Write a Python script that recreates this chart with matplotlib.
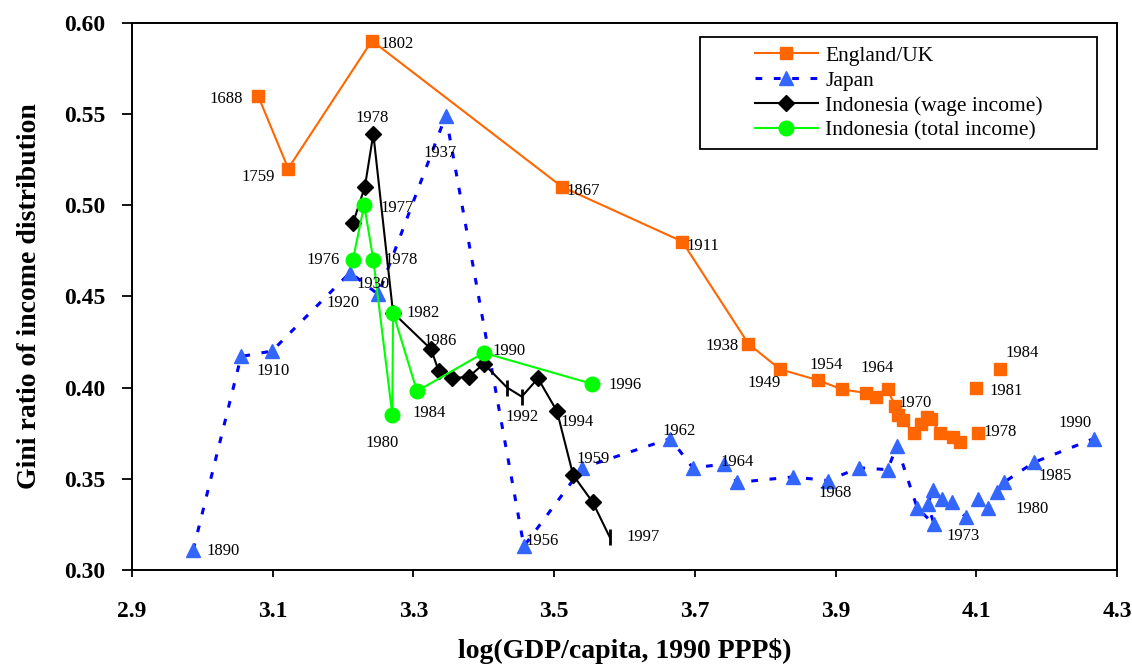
import numpy as np
import matplotlib
matplotlib.use('Agg')
import matplotlib.pyplot as plt
from matplotlib.patches import Rectangle
from matplotlib.lines import Line2D

plt.rcParams['font.family'] = ['Liberation Serif', 'DejaVu Serif']

# England/UK: the first uk_joined points are joined by the line, the rest stand alone
uk_year = [1688, 1759, 1802, 1867, 1911, 1938, 1949, 1954, 1957, 1959, 1961, 1964,
           1965, 1966, 1967, 1968, 1969, 1970, 1971, 1972, 1973, 1974, 1978, 1981, 1984]
uk_x = [3.079, 3.122, 3.241, 3.511, 3.682, 3.776, 3.821, 3.875, 3.909, 3.943, 3.957, 3.974,
        3.984, 3.988, 3.996, 4.011, 4.021, 4.030, 4.036, 4.048, 4.067, 4.077, 4.102, 4.100, 4.134]
uk_gini = [0.560, 0.520, 0.590, 0.510, 0.480, 0.424, 0.410, 0.404, 0.399, 0.397, 0.395, 0.399,
           0.390, 0.385, 0.382, 0.375, 0.380, 0.384, 0.383, 0.375, 0.373, 0.370, 0.375, 0.400, 0.410]
uk_joined = 22

jp_year = [1890, 1900, 1910, 1920, 1930, 1937, 1956, 1959, 1962, 1963, 1964, 1965, 1966, 1968,
           1969, 1970, 1971, 1972, 1973, 1974, 1975, 1976, 1977, 1978, 1979, 1980, 1981, 1982,
           1985, 1990]
jp_x = [2.987, 3.055, 3.099, 3.210, 3.250, 3.346, 3.457, 3.540, 3.665, 3.697, 3.742, 3.760,
        3.839, 3.889, 3.933, 3.974, 3.987, 4.016, 4.040, 4.031, 4.038, 4.051, 4.065, 4.085,
        4.102, 4.117, 4.129, 4.139, 4.182, 4.267]
jp_gini = [0.311, 0.417, 0.420, 0.463, 0.451, 0.549, 0.313, 0.356, 0.372, 0.356, 0.358, 0.348,
           0.351, 0.349, 0.356, 0.355, 0.368, 0.334, 0.325, 0.336, 0.344, 0.339, 0.337, 0.329,
           0.339, 0.334, 0.343, 0.348, 0.359, 0.372]

# Indonesia, wage income (some years only shown as a short bar)
idw_year = [1976, 1977, 1978, 1982, 1986, 1987, 1988, 1989, 1990, 1991, 1992, 1993, 1994,
            1995, 1996, 1997]
idw_x = [3.214, 3.231, 3.243, 3.271, 3.325, 3.336, 3.355, 3.379, 3.400, 3.433, 3.454, 3.477,
         3.504, 3.527, 3.555, 3.579]
idw_gini = [0.490, 0.510, 0.539, 0.441, 0.421, 0.409, 0.405, 0.406, 0.413, 0.400, 0.395,
            0.405, 0.387, 0.352, 0.337, 0.318]
idw_bar_years = [1991, 1992, 1997]

# Indonesia, total income
idt_year = [1976, 1977, 1978, 1980, 1982, 1984, 1990, 1996]
idt_x = [3.214, 3.230, 3.243, 3.270, 3.271, 3.305, 3.400, 3.554]
idt_gini = [0.470, 0.500, 0.470, 0.385, 0.441, 0.398, 0.419, 0.402]

# year labels: year -> offset of the text from its point, in pixels
uk_labels = {1688: (-32, -3), 1759: (-30, -8), 1802: (25, -3), 1867: (21, -4), 1911: (21, -4),
             1938: (-26, -2), 1949: (-16, -14), 1954: (8, 15), 1964: (-11, 21), 1970: (-12, 14),
             1978: (22, 1), 1981: (30, -3), 1984: (22, 16)}
jp_labels = {1890: (30, -1), 1910: (1, -20), 1920: (-7, -30), 1930: (-5, 10), 1937: (-6, -37),
             1956: (18, 5), 1959: (11, 9), 1962: (9, 8), 1964: (13, 2), 1968: (7, -12),
             1973: (29, -12), 1980: (44, -1), 1985: (21, -14), 1990: (-19, 16)}
idw_labels = {1978: (-1, 16), 1986: (9, 8), 1992: (0, -20), 1994: (20, -11), 1997: (33, 0)}
idt_labels = {1976: (-30, 0), 1977: (33, -3), 1978: (28, 0), 1980: (-10, -28), 1982: (30, 0),
              1984: (12, -22), 1990: (25, 2), 1996: (33, -1)}

orange = '#FF6600'
blue_line = '#0000FF'
blue_mark = '#3366FF'
green = '#00FF00'
jp_dash = (0, (2.2, 3.8))

fig = plt.figure(figsize=(11.32, 6.68), dpi=100)
ax = fig.add_axes([0.1166, 0.1467, 0.8702, 0.8196])

ax.plot(uk_x[:uk_joined], uk_gini[:uk_joined], '-s', color=orange, lw=1.5, ms=9)
ax.plot(uk_x[uk_joined:], uk_gini[uk_joined:], 's', color=orange, ms=9)

ax.plot(jp_x, jp_gini, color=blue_line, lw=2.2, linestyle=jp_dash,
        marker='^', mfc=blue_mark, mec=blue_mark, ms=10.5)

is_bar = np.isin(idw_year, idw_bar_years)
idw_x_arr = np.array(idw_x)
idw_g_arr = np.array(idw_gini)
ax.plot(idw_x, idw_gini, '-', color='black', lw=1.5)
ax.plot(idw_x_arr[~is_bar], idw_g_arr[~is_bar], 'D', color='black', ms=8)
ax.plot(idw_x_arr[is_bar], idw_g_arr[is_bar], '|', color='black', ms=12, mew=2)

ax.plot(idt_x, idt_gini, '-o', color=green, lw=1.5, ms=10.5)

def add_labels(xs, ys, years, labels):
    for yr, (dx, dy) in labels.items():
        i = years.index(yr)
        ax.annotate(str(yr), (xs[i], ys[i]), xytext=(dx, dy), textcoords='offset pixels',
                    ha='center', va='center', fontsize=12)

add_labels(uk_x, uk_gini, uk_year, uk_labels)
add_labels(jp_x, jp_gini, jp_year, jp_labels)
add_labels(idw_x, idw_gini, idw_year, idw_labels)
add_labels(idt_x, idt_gini, idt_year, idt_labels)

ax.set_xlim(2.9, 4.3)
ax.set_ylim(0.30, 0.60)
xt = np.arange(2.9, 4.31, 0.2)
yt = np.arange(0.30, 0.601, 0.05)
ax.set_xticks(xt)
ax.set_yticks(yt)
ax.set_xticklabels(['%.1f' % v for v in xt])
ax.set_yticklabels(['%.2f' % v for v in yt])
ax.tick_params(axis='x', direction='out', length=5, width=1.3, pad=17, labelsize=17)
ax.tick_params(axis='y', direction='out', length=7, width=1.3, pad=12, labelsize=17)
for lab in ax.get_xticklabels() + ax.get_yticklabels():
    lab.set_fontweight('bold')
for sp in ax.spines.values():
    sp.set_linewidth(1.4)

ax.set_xlabel('log(GDP/capita, 1990 PPP$)', fontsize=20, fontweight='bold', labelpad=12)
ax.set_ylabel('Gini ratio of income distribution', fontsize=20, fontweight='bold', labelpad=16)

# legend with a wide frame around it
handles = [
    Line2D([], [], color=orange, lw=1.5, marker='s', ms=9),
    Line2D([], [], color=blue_line, lw=2.2, linestyle=jp_dash, marker='^',
           mfc=blue_mark, mec=blue_mark, ms=10.5),
    Line2D([], [], color='black', lw=1.5, marker='D', ms=8),
    Line2D([], [], color=green, lw=1.5, marker='o', ms=10.5),
]
names = ['England/UK', 'Japan', 'Indonesia (wage income)', 'Indonesia (total income)']
ax.add_patch(Rectangle((0.577, 0.769), 0.403, 0.2045, transform=ax.transAxes,
                       fill=False, ec='black', lw=1.3, zorder=5))
ax.legend(handles, names, loc='center', bbox_to_anchor=(0.7785, 0.871), frameon=False,
          fontsize=15.5, handlelength=2.9, handletextpad=0.35, labelspacing=0.22,
          borderpad=0)

fig.savefig('out.png', dpi=100)
